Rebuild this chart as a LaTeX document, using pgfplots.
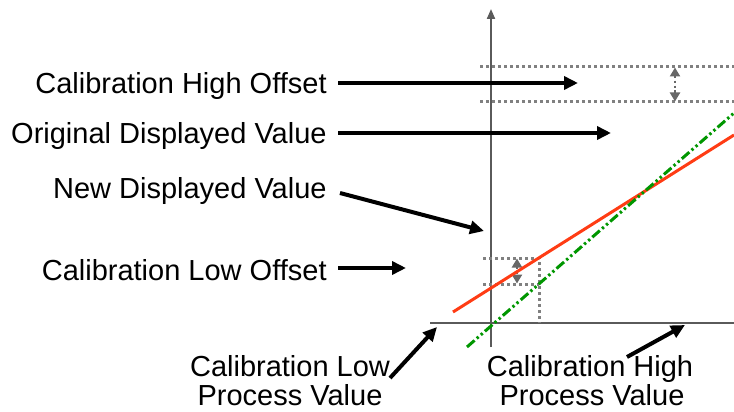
\documentclass[border=0pt]{standalone}
\usepackage{pgfplots}
\pgfplotsset{compat=1.18}
\usepackage{fontspec}
\setmainfont{Liberation Sans}
\usetikzlibrary{arrows.meta}
\definecolor{redline}{RGB}{255,60,20}
\definecolor{greenline}{RGB}{0,150,0}
\definecolor{axgray}{RGB}{90,90,90}
\definecolor{dotgray}{RGB}{128,128,128}
\tikzset{lab/.style={inner sep=0pt, font=\fontsize{14.5bp}{17bp}\selectfont}}
\begin{document}
\begin{tikzpicture}
\begin{axis}[
  scale only axis, width=367bp, height=206bp,
  xmin=0, xmax=734, ymin=0, ymax=412, y dir=reverse,
  hide axis, clip=false,
]
% axes
\addplot[axgray, line width=1bp, -{Triangle[length=5bp,width=4bp]}] coordinates {(491,347) (491,9)};
\addplot[axgray, line width=1bp] coordinates {(430,323) (734,323)};
% offset dotted lines (high)
\addplot[dotgray, line width=1.5bp, dash pattern=on 1.5bp off 1.5bp] coordinates {(480,67) (734,67)};
\addplot[dotgray, line width=1.5bp, dash pattern=on 1.5bp off 1.5bp] coordinates {(480,102) (734,102)};
\addplot[dotgray!80!black, line width=1.2bp, dash pattern=on 1.2bp off 1.2bp, {Triangle[length=4.5bp,width=5bp]}-{Triangle[length=4.5bp,width=5bp]}] coordinates {(675,67.5) (675,101.5)};
% offset dotted lines (low)
\addplot[dotgray, line width=1.5bp, dash pattern=on 1.5bp off 1.5bp] coordinates {(483,258) (539,258) (539,323)};
\addplot[dotgray, line width=1.5bp, dash pattern=on 1.5bp off 1.5bp] coordinates {(483,284) (539,284)};
\addplot[dotgray!80!black, line width=1.2bp, dash pattern=on 1.2bp off 1.2bp, {Triangle[length=4.5bp,width=5bp]}-{Triangle[length=4.5bp,width=5bp]}] coordinates {(517,258.5) (517,283.5)};
% lines
\addplot[redline, line width=1.5bp] coordinates {(453,312) (734,135)};
\addplot[greenline, line width=1.5bp, dash pattern=on 5bp off 1.5bp on 1.2bp off 1.5bp on 1.2bp off 1.5bp] coordinates {(467,347) (734,113)};
% black arrows
\addplot[black, line width=2bp, -{Triangle[length=7bp,width=6.5bp]}] coordinates {(338,83) (578,83)};
\addplot[black, line width=2bp, -{Triangle[length=7bp,width=6.5bp]}] coordinates {(338,133) (611,133)};
\addplot[black, line width=2bp, -{Triangle[length=7bp,width=6.5bp]}] coordinates {(340,193) (484,231)};
\addplot[black, line width=2bp, -{Triangle[length=7bp,width=6.5bp]}] coordinates {(338,268) (406,268)};
\addplot[black, line width=2bp, -{Triangle[length=7bp,width=6.5bp]}] coordinates {(390,378) (437,327)};
\addplot[black, line width=2bp, -{Triangle[length=7bp,width=6.5bp]}] coordinates {(627,357) (685,325)};
% labels
\node[lab, anchor=base east] at (axis cs:327,93) {Calibration High Offset};
\node[lab, anchor=base east] at (axis cs:327,143) {Original Displayed Value};
\node[lab, anchor=base east] at (axis cs:327,198) {New Displayed Value};
\node[lab, anchor=base east] at (axis cs:327,280) {Calibration Low Offset};
\node[lab, anchor=base] at (axis cs:290,376) {Calibration Low};
\node[lab, anchor=base] at (axis cs:290,405) {Process Value};
\node[lab, anchor=base] at (axis cs:590,376) {Calibration High};
\node[lab, anchor=base] at (axis cs:592,405) {Process Value};
\end{axis}
\pgfresetboundingbox
\path (current axis.south west) rectangle (current axis.north east);
\end{tikzpicture}
\end{document}
